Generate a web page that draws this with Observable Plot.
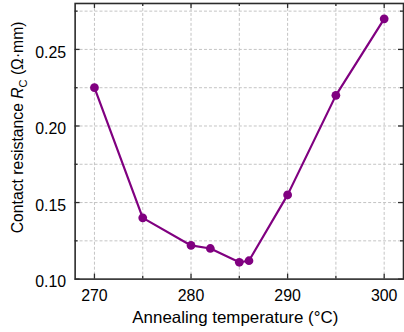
<!DOCTYPE html>
<html><head><meta charset="utf-8">
<script src="https://cdn.jsdelivr.net/npm/d3@7"></script>
<script src="https://cdn.jsdelivr.net/npm/@observablehq/plot@0.6"></script>
<style>html,body{margin:0;padding:0;overflow:hidden;background:#fff;} svg{display:block;}</style>
</head><body><div id="chart"></div>
<script>
const temperatures = [270, 275, 280, 282, 285, 286, 290, 295, 300];
const resistance = [0.225, 0.140, 0.122, 0.120, 0.111, 0.112, 0.155, 0.220, 0.270];
const xMajorTicks = [270, 280, 290, 300];
const xMinorTicks = [275, 285, 295];
const yMajorTicks = [0.10, 0.15, 0.20, 0.25];
const yMinorTicks = [0.125, 0.175, 0.225, 0.275];
const xTitle = "Annealing temperature (°C)";
const yTitleParts = ["Contact resistance ", "R", "C", " (Ω·mm)"];

const data = temperatures.map((t, i) => ({t, r: resistance[i]}));
const purple = "#800080";
const axisColor = "#2b2b2b";
const gridColor = "#c4c4c4";
const xDomain = [268, 302], yDomain = [0.10, 0.28];
const font = "'Liberation Sans', Arial, sans-serif";

const tickStyle = {stroke: axisColor, strokeWidth: 1.3};
const chart = Plot.plot({
  width: 406, height: 332, marginLeft: 75, marginRight: 1, marginTop: 3, marginBottom: 52,
  style: {fontFamily: font, background: "white", overflow: "visible"},
  x: {domain: xDomain},
  y: {domain: yDomain},
  marks: [
    Plot.gridX([...xMajorTicks, ...xMinorTicks], {stroke: gridColor, strokeOpacity: 1, strokeDasharray: "3,2"}),
    Plot.gridY([...yMajorTicks.slice(1), ...yMinorTicks], {stroke: gridColor, strokeOpacity: 1, strokeDasharray: "3,2"}),
    Plot.axisX(xMajorTicks, {tickSize: 0, tickPadding: 10.5, fontSize: 16, label: null, tickFormat: d => String(d), fill: "black"}),
    Plot.axisY(yMajorTicks, {tickSize: 0, tickPadding: 9, fontSize: 16, label: null, tickFormat: d3.format(".2f"), dy: 3, fill: "black"}),
    // inward ticks: bottom / top
    Plot.ruleX(xMajorTicks, {x: d => d, y1: yDomain[0], y2: yDomain[0], insetBottom: 5, ...tickStyle}),
    Plot.ruleX(xMinorTicks, {x: d => d, y1: yDomain[0], y2: yDomain[0], insetBottom: 3, ...tickStyle}),
    Plot.ruleX(xMajorTicks, {x: d => d, y1: yDomain[1], y2: yDomain[1], insetTop: 5, ...tickStyle}),
    Plot.ruleX(xMinorTicks, {x: d => d, y1: yDomain[1], y2: yDomain[1], insetTop: 3, ...tickStyle}),
    // inward ticks: left / right
    Plot.ruleY(yMajorTicks, {y: d => d, x1: xDomain[0], x2: xDomain[0], insetLeft: 5, ...tickStyle}),
    Plot.ruleY(yMinorTicks, {y: d => d, x1: xDomain[0], x2: xDomain[0], insetLeft: 3, ...tickStyle}),
    Plot.ruleY(yMajorTicks, {y: d => d, x1: xDomain[1], x2: xDomain[1], insetRight: 5, ...tickStyle}),
    Plot.ruleY(yMinorTicks, {y: d => d, x1: xDomain[1], x2: xDomain[1], insetRight: 3, ...tickStyle}),
    Plot.line(data, {x: "t", y: "r", stroke: purple, strokeWidth: 2.2}),
    Plot.dot(data, {x: "t", y: "r", r: 4.4, fill: purple, stroke: "none"}),
    Plot.frame({stroke: axisColor, strokeWidth: 1.6})
  ]
});

const svg = d3.select(chart);
svg.append("text")
  .attr("x", 236.5).attr("y", 325)
  .attr("text-anchor", "middle")
  .attr("font-size", 17).attr("font-family", font).attr("fill", "black")
  .text(xTitle);

const yt = svg.append("text")
  .attr("transform", "translate(23.5,128) rotate(-90)")
  .attr("text-anchor", "middle")
  .attr("font-size", 15.8).attr("font-family", font).attr("fill", "black");
yt.append("tspan").text(yTitleParts[0]);
yt.append("tspan").attr("font-style", "italic").text(yTitleParts[1]);
yt.append("tspan").attr("font-size", 11).attr("dy", 4).text(yTitleParts[2]);
yt.append("tspan").attr("dy", -4).text(yTitleParts[3]);

document.getElementById("chart").append(chart);
</script>
</body></html>
